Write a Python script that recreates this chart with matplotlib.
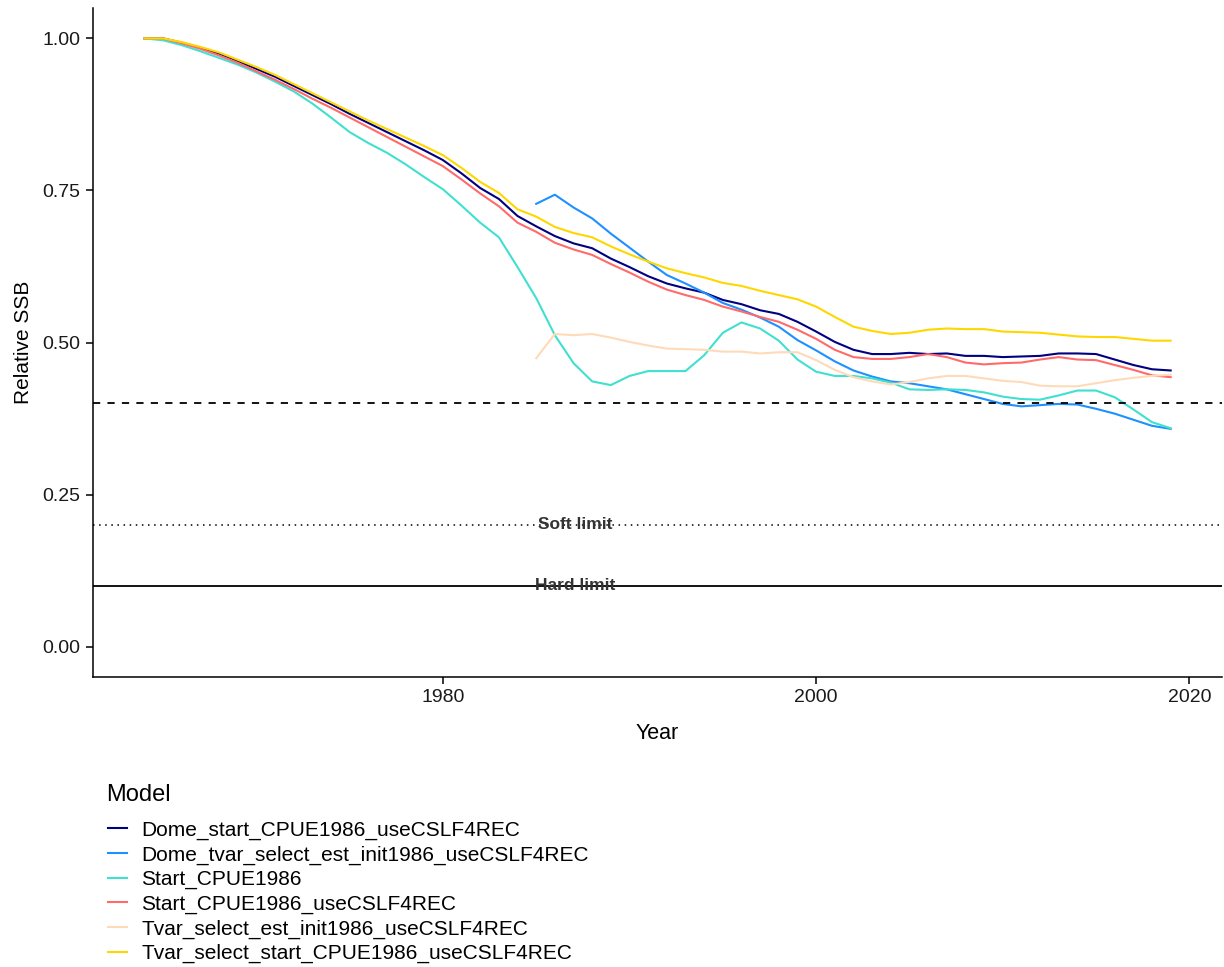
import numpy as np
import matplotlib
matplotlib.use("Agg")
import matplotlib.pyplot as plt
from matplotlib.lines import Line2D

plt.rcParams["font.family"] = ["Liberation Sans", "DejaVu Sans"]

years = list(range(1964, 2020))
years_late = list(range(1985, 2020))

dome_start = [1.000, 1.000, 0.993, 0.985, 0.975, 0.963, 0.950, 0.937, 0.922, 0.907,
              0.892, 0.876, 0.861, 0.846, 0.831, 0.816, 0.800, 0.778, 0.754, 0.736,
              0.708, 0.691, 0.675, 0.663, 0.655, 0.638, 0.624, 0.609, 0.597, 0.589,
              0.582, 0.570, 0.563, 0.553, 0.547, 0.534, 0.518, 0.501, 0.488, 0.481,
              0.481, 0.483, 0.481, 0.482, 0.478, 0.478, 0.476, 0.477, 0.478, 0.482,
              0.482, 0.481, 0.472, 0.463, 0.456, 0.454]

tvar_start = [1.000, 1.000, 0.994, 0.986, 0.977, 0.965, 0.953, 0.940, 0.925, 0.910,
              0.895, 0.880, 0.865, 0.851, 0.837, 0.823, 0.808, 0.787, 0.764, 0.746,
              0.719, 0.707, 0.690, 0.680, 0.673, 0.658, 0.645, 0.633, 0.622, 0.614,
              0.607, 0.598, 0.593, 0.585, 0.578, 0.571, 0.559, 0.542, 0.526, 0.519,
              0.514, 0.516, 0.521, 0.523, 0.522, 0.522, 0.518, 0.517, 0.516, 0.513,
              0.510, 0.509, 0.509, 0.506, 0.503, 0.503]

start_use = [1.000, 1.000, 0.992, 0.983, 0.972, 0.960, 0.946, 0.932, 0.917, 0.901,
             0.886, 0.870, 0.854, 0.838, 0.822, 0.806, 0.790, 0.768, 0.745, 0.724,
             0.697, 0.682, 0.664, 0.653, 0.644, 0.629, 0.615, 0.600, 0.587, 0.578,
             0.570, 0.559, 0.551, 0.542, 0.534, 0.521, 0.506, 0.488, 0.476, 0.473,
             0.473, 0.476, 0.481, 0.476, 0.467, 0.464, 0.466, 0.467, 0.472, 0.476,
             0.472, 0.471, 0.463, 0.455, 0.446, 0.443]

start_cpue = [1.000, 0.997, 0.989, 0.979, 0.968, 0.957, 0.944, 0.929, 0.913, 0.893,
              0.870, 0.846, 0.828, 0.812, 0.793, 0.772, 0.752, 0.725, 0.697, 0.673,
              0.624, 0.573, 0.512, 0.466, 0.436, 0.430, 0.445, 0.453, 0.453, 0.453,
              0.479, 0.516, 0.533, 0.523, 0.503, 0.472, 0.452, 0.445, 0.445, 0.441,
              0.434, 0.423, 0.422, 0.423, 0.422, 0.418, 0.411, 0.407, 0.406, 0.413,
              0.421, 0.421, 0.410, 0.390, 0.369, 0.359]

dome_tvar = [0.728, 0.743, 0.722, 0.704, 0.679, 0.656, 0.633, 0.611, 0.597, 0.582,
             0.565, 0.554, 0.541, 0.526, 0.504, 0.487, 0.469, 0.454, 0.444, 0.436,
             0.433, 0.428, 0.423, 0.415, 0.407, 0.399, 0.395, 0.397, 0.399, 0.398,
             0.391, 0.383, 0.373, 0.363, 0.358]

tvar_est = [0.474, 0.514, 0.512, 0.514, 0.508, 0.501, 0.495, 0.490, 0.489, 0.488,
            0.485, 0.485, 0.482, 0.484, 0.484, 0.471, 0.455, 0.443, 0.436, 0.431,
            0.435, 0.441, 0.445, 0.445, 0.441, 0.437, 0.435, 0.429, 0.428, 0.428,
            0.433, 0.438, 0.442, 0.445, 0.447]

models = ["Dome_start_CPUE1986_useCSLF4REC",
          "Dome_tvar_select_est_init1986_useCSLF4REC",
          "Start_CPUE1986",
          "Start_CPUE1986_useCSLF4REC",
          "Tvar_select_est_init1986_useCSLF4REC",
          "Tvar_select_start_CPUE1986_useCSLF4REC"]
colors = ["#000080", "#1E90FF", "#40E0D0", "#FF6A6A", "#FFDAB9", "#FFD700"]

series = [(years, dome_start), (years_late, dome_tvar), (years, start_cpue),
          (years, start_use), (years_late, tvar_est), (years, tvar_start)]

target = 0.4
soft_limit = 0.2
hard_limit = 0.1

fig = plt.figure(figsize=(12.24, 9.67), dpi=100)
ax = fig.add_axes([93 / 1224, 1 - 677 / 967, (1222 - 93) / 1224, (677 - 8) / 967])

for (x, y), c in zip(series, colors):
    ax.plot(x, y, color=c, lw=1.5)

ax.axhline(target, color="black", ls=(0, (4, 4)), lw=1.3)
ax.axhline(soft_limit, color="black", ls=(0, (1, 3)), lw=1.1)
ax.axhline(hard_limit, color="black", ls="-", lw=1.3)
ax.text(1987.1, soft_limit, "Soft limit", ha="center", va="center", fontsize=12.5,
        fontweight="bold", color="#333333")
ax.text(1987.1, hard_limit, "Hard limit", ha="center", va="center", fontsize=12.5,
        fontweight="bold", color="#333333")

ax.set_xlim(1961.25, 2021.75)
ax.set_ylim(-0.05, 1.05)
ax.set_xticks([1980, 2000, 2020])
ax.set_yticks([0, 0.25, 0.5, 0.75, 1.0])
ax.set_yticklabels(["0.00", "0.25", "0.50", "0.75", "1.00"])
ax.tick_params(labelsize=14, labelcolor="#1a1a1a", length=5, width=1.1, pad=4)
for s in ["top", "right"]:
    ax.spines[s].set_visible(False)
for s in ["left", "bottom"]:
    ax.spines[s].set_linewidth(1.1)
ax.set_xlabel("Year", fontsize=15.5, labelpad=12)
ax.set_ylabel("Relative SSB", fontsize=15, labelpad=7)

# legend: title drawn separately so the gap below it can match
fig.text(106 / 1224, 1 - 795 / 967, "Model", fontsize=17, va="center", ha="left")
handles = [Line2D([], [], color=c, lw=1.5) for c in colors]
fig.legend(handles, models, loc="upper left",
           bbox_to_anchor=(89 / 1224, 1 - 802 / 967), frameon=False,
           fontsize=15, handlelength=0.92, handletextpad=0.7, labelspacing=0.26)

fig.savefig("out.png", dpi=100)
